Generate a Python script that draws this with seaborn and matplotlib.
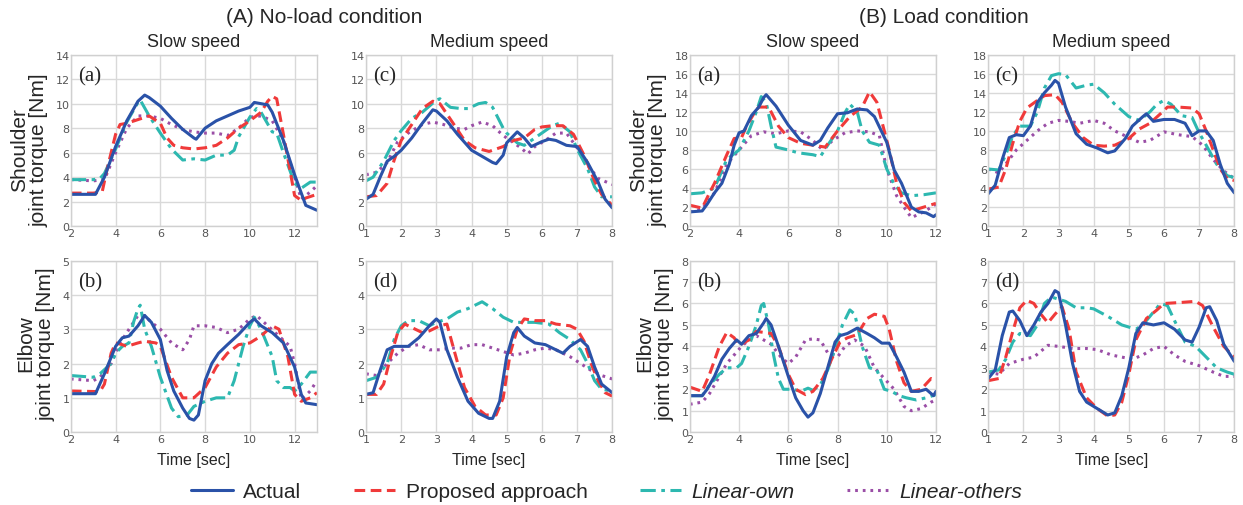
import matplotlib
matplotlib.use("Agg")
import matplotlib.pyplot as plt
import seaborn as sns
from matplotlib.lines import Line2D

# ---- (A) no-load, slow speed, shoulder ----
a_sl_sh_act_t = [2, 3, 3.1, 3.5, 4, 4.5, 5, 5.3, 5.5, 6, 6.5, 7, 7.5, 7.6, 8, 8.5, 9, 9.5, 10, 10.2, 10.5, 10.8, 11, 11.5, 12, 12.5, 13]
a_sl_sh_act_y = [2.6, 2.6, 2.6, 4.0, 6.5, 8.6, 10.2, 10.7, 10.5, 9.8, 8.8, 7.9, 7.2, 7.1, 8.0, 8.6, 9.0, 9.4, 9.7, 10.1, 10.0, 9.9, 9.3, 7.0, 4.2, 1.7, 1.3]
a_sl_sh_pro_t = [2, 3, 3.4, 3.6, 4, 4.2, 4.5, 5, 5.5, 6, 6.3, 6.6, 7, 7.5, 8, 8.5, 9, 9.5, 10, 10.5, 10.8, 11, 11.2, 11.5, 12, 12.3, 12.5, 13]
a_sl_sh_pro_y = [2.7, 2.7, 2.8, 4.5, 7.5, 8.3, 8.4, 8.7, 9.0, 8.4, 7.2, 6.6, 6.4, 6.3, 6.4, 6.6, 7.2, 8.0, 8.6, 9.3, 10.2, 10.6, 10.4, 7.5, 2.5, 2.1, 2.3, 2.6]
a_sl_sh_own_t = [2, 3, 3.3, 3.5, 4, 4.5, 5, 5.1, 5.5, 6, 6.5, 7, 7.5, 8, 8.5, 9, 9.3, 9.5, 10, 10.3, 10.5, 11, 11.2, 11.5, 12, 12.3, 12.7, 13]
a_sl_sh_own_y = [3.8, 3.8, 3.9, 4.3, 6.3, 8.5, 10.1, 10.3, 9.0, 7.6, 6.3, 5.4, 5.5, 5.4, 5.8, 5.8, 6.2, 7.3, 8.9, 9.6, 9.3, 7.7, 7.6, 6.0, 3.5, 3.1, 3.6, 3.6]
a_sl_sh_oth_t = [2, 3, 3.5, 4, 4.5, 5, 5.5, 6, 6.5, 7, 7.5, 8, 8.5, 9, 9.5, 10, 10.5, 11, 11.5, 12, 12.3, 12.7, 13]
a_sl_sh_oth_y = [3.8, 3.7, 3.8, 6.0, 8.0, 9.0, 9.0, 8.8, 8.3, 7.9, 7.7, 7.6, 7.6, 7.4, 8.0, 8.9, 9.0, 8.6, 7.0, 4.0, 2.2, 2.8, 3.3]

# ---- (A) no-load, medium speed, shoulder ----
a_md_sh_act_t = [1, 1.2, 1.4, 1.6, 1.8, 2, 2.3, 2.6, 2.9, 3, 3.3, 3.6, 4, 4.3, 4.6, 4.7, 4.9, 5, 5.3, 5.5, 5.7, 6, 6.2, 6.4, 6.7, 7, 7.3, 7.6, 7.8, 8]
a_md_sh_act_y = [2.2, 2.6, 4.0, 5.3, 5.7, 6.2, 7.2, 8.4, 9.5, 9.4, 8.6, 7.5, 6.2, 5.7, 5.2, 5.1, 5.8, 6.8, 7.7, 7.2, 6.5, 6.9, 7.1, 7.0, 6.6, 6.5, 5.2, 3.6, 2.2, 1.5]
a_md_sh_pro_t = [1, 1.3, 1.6, 1.8, 2, 2.3, 2.6, 2.9, 3.1, 3.5, 3.8, 4.1, 4.5, 4.9, 5.2, 5.5, 5.8, 6, 6.3, 6.6, 6.9, 7.2, 7.5, 7.7, 8]
a_md_sh_pro_y = [2.4, 2.5, 3.5, 5.4, 7.0, 8.3, 9.6, 10.2, 10.0, 8.3, 7.0, 6.4, 6.1, 6.5, 7.0, 7.2, 7.9, 8.1, 8.2, 8.2, 7.5, 5.8, 3.7, 2.6, 1.7]
a_md_sh_own_t = [1, 1.2, 1.5, 1.8, 2, 2.3, 2.6, 3.0, 3.1, 3.4, 3.7, 3.9, 4.2, 4.4, 4.6, 4.9, 5, 5.3, 5.5, 5.8, 6, 6.3, 6.5, 6.8, 7.0, 7.3, 7.5, 7.7, 8]
a_md_sh_own_y = [3.7, 4.0, 5.3, 7.0, 7.8, 8.8, 9.3, 10.3, 10.4, 9.7, 9.6, 9.6, 10.0, 10.1, 9.7, 8.0, 7.6, 6.8, 6.6, 7.2, 7.6, 8.2, 8.4, 7.7, 6.3, 4.7, 3.2, 2.4, 2.4]
a_md_sh_oth_t = [1, 1.3, 1.6, 1.9, 2.2, 2.6, 2.9, 3.2, 3.5, 3.8, 4.0, 4.3, 4.6, 4.9, 5.1, 5.4, 5.6, 5.8, 6.1, 6.4, 6.7, 7, 7.3, 7.6, 8]
a_md_sh_oth_y = [4.2, 4.4, 5.2, 6.9, 7.6, 8.3, 8.5, 8.3, 8.0, 7.9, 8.2, 8.5, 8.2, 7.4, 7.0, 6.4, 5.9, 6.5, 7.0, 7.6, 7.6, 6.4, 5.0, 3.9, 3.4]

# ---- (B) load, slow speed, shoulder ----
b_sl_sh_act_t = [2, 2.5, 2.7, 3, 3.3, 3.6, 3.8, 4, 4.2, 4.5, 4.8, 5.0, 5.1, 5.5, 6, 6.5, 7, 7.3, 7.6, 8, 8.4, 8.8, 9.2, 9.5, 10, 10.3, 10.6, 11, 11.3, 11.6, 11.9, 12]
b_sl_sh_act_y = [1.5, 1.6, 2.3, 3.5, 4.5, 6.5, 8.5, 9.8, 10.0, 11.6, 12.5, 13.5, 13.8, 12.6, 10.6, 9.0, 8.5, 9.0, 10.3, 11.8, 11.9, 12.3, 12.2, 11.5, 8.8, 5.9, 4.5, 2.0, 1.5, 1.4, 1.0, 1.2]
b_sl_sh_pro_t = [2, 2.5, 2.8, 3, 3.5, 3.8, 4.1, 4.3, 4.6, 4.8, 5.2, 5.6, 6, 6.5, 7, 7.5, 8, 8.5, 9, 9.3, 9.6, 9.8, 10.1, 10.4, 10.7, 11, 11.5, 12]
b_sl_sh_pro_y = [2.2, 1.9, 3.5, 4.5, 7.5, 9.2, 9.3, 10.5, 11.8, 12.5, 12.5, 10.5, 9.3, 8.7, 8.5, 8.3, 10.0, 11.5, 12.5, 14.1, 13.0, 11.0, 8.0, 4.5, 2.5, 1.6, 2.0, 2.4]
b_sl_sh_own_t = [2, 2.5, 3, 3.5, 4, 4.4, 4.7, 4.9, 5.1, 5.3, 5.5, 6, 6.4, 7, 7.3, 7.6, 8, 8.3, 8.5, 8.8, 9.0, 9.3, 9.7, 10, 10.3, 10.6, 11, 11.5, 12]
b_sl_sh_own_y = [3.4, 3.5, 4.0, 7.0, 8.0, 10.0, 12.0, 13.6, 13.0, 10.5, 8.3, 8.0, 7.7, 7.5, 7.3, 8.5, 10.0, 11.9, 12.8, 12.0, 10.0, 8.8, 8.5, 6.0, 4.4, 3.5, 3.2, 3.3, 3.5]
b_sl_sh_oth_t = [2, 2.5, 3, 3.5, 4, 4.5, 5, 5.5, 6, 6.5, 7, 7.4, 7.8, 8.3, 8.8, 9.3, 9.7, 10, 10.4, 10.7, 11, 11.5, 12]
b_sl_sh_oth_y = [1.5, 1.8, 3.5, 6.5, 8.0, 9.5, 9.9, 9.7, 10.0, 9.9, 9.0, 8.0, 9.0, 9.8, 10.0, 9.9, 9.5, 6.0, 3.2, 2.0, 0.9, 1.5, 2.3]

# ---- (B) load, medium speed, shoulder ----
b_md_sh_act_t = [1, 1.2, 1.4, 1.6, 1.8, 2, 2.2, 2.4, 2.6, 2.8, 2.9, 3.0, 3.2, 3.5, 3.8, 4.1, 4.4, 4.6, 4.9, 5.1, 5.4, 5.5, 5.7, 6.0, 6.3, 6.6, 6.8, 7, 7.2, 7.4, 7.6, 7.8, 8]
b_md_sh_act_y = [3.4, 4.3, 7.0, 9.3, 9.6, 9.5, 10.5, 13.0, 14.0, 14.8, 15.3, 15.0, 12.5, 9.7, 8.6, 8.2, 7.7, 7.9, 9.2, 10.5, 11.5, 11.8, 11.0, 11.2, 11.2, 10.8, 9.5, 10.0, 10.0, 9.0, 6.5, 4.5, 3.5]
b_md_sh_pro_t = [1, 1.3, 1.5, 1.7, 1.9, 2.1, 2.4, 2.6, 2.9, 3.1, 3.4, 3.7, 4.0, 4.3, 4.6, 5, 5.3, 5.6, 5.9, 6.1, 6.4, 6.8, 7, 7.2, 7.4, 7.6, 7.8, 8]
b_md_sh_pro_y = [3.9, 4.1, 6.0, 8.7, 11.0, 12.4, 13.2, 13.7, 13.8, 13.0, 10.8, 9.3, 8.5, 8.4, 8.5, 9.2, 10.2, 10.8, 11.8, 12.5, 12.5, 12.4, 11.8, 10.0, 8.0, 6.0, 5.0, 4.8]
b_md_sh_own_t = [1, 1.3, 1.5, 1.7, 1.9, 2.2, 2.4, 2.6, 2.8, 3.0, 3.2, 3.5, 3.8, 4.0, 4.3, 4.6, 5, 5.3, 5.6, 5.8, 6.0, 6.2, 6.5, 6.8, 7.0, 7.2, 7.5, 7.8, 8]
b_md_sh_own_y = [6.0, 5.9, 7.5, 9.5, 10.5, 10.5, 12.0, 14.5, 15.8, 16.0, 15.9, 14.5, 14.8, 14.9, 14.0, 12.8, 11.5, 11.1, 12.0, 12.8, 13.2, 12.8, 11.6, 11.4, 9.8, 8.5, 6.5, 5.3, 5.1]
b_md_sh_oth_t = [1, 1.3, 1.6, 1.8, 2.1, 2.4, 2.7, 3, 3.3, 3.6, 4.0, 4.3, 4.6, 5, 5.3, 5.6, 6.0, 6.4, 6.8, 7.1, 7.4, 7.7, 8]
b_md_sh_oth_y = [6.0, 5.6, 7.0, 8.0, 9.0, 10.0, 10.8, 11.1, 11.0, 10.8, 11.1, 10.8, 10.0, 9.3, 8.8, 9.0, 9.9, 9.6, 9.4, 8.5, 7.0, 5.8, 5.0]

# ---- (A) no-load, slow speed, elbow ----
a_sl_el_act_t = [2, 3.1, 3.5, 4, 4.3, 4.6, 5, 5.3, 5.6, 6, 6.3, 6.6, 7, 7.3, 7.5, 7.7, 8, 8.3, 8.6, 9, 9.5, 10, 10.2, 10.5, 11, 11.5, 12, 12.3, 12.5, 13]
a_sl_el_act_y = [1.12, 1.12, 1.7, 2.5, 2.75, 2.8, 3.1, 3.4, 3.2, 2.7, 1.8, 1.2, 0.7, 0.4, 0.35, 0.5, 1.5, 2.0, 2.3, 2.55, 2.85, 3.2, 3.3, 3.1, 2.9, 2.6, 1.9, 1.1, 0.85, 0.8]
a_sl_el_pro_t = [2, 3.3, 3.5, 3.8, 4, 4.3, 4.5, 5, 5.3, 5.8, 6, 6.5, 7, 7.5, 8, 8.5, 9, 9.5, 10, 10.5, 11, 11.3, 11.7, 12, 12.3, 12.7, 13]
a_sl_el_pro_y = [1.2, 1.18, 1.4, 2.3, 2.6, 2.55, 2.5, 2.6, 2.65, 2.6, 2.5, 1.6, 1.0, 1.0, 1.3, 1.9, 2.3, 2.55, 2.6, 2.8, 3.1, 3.0, 2.2, 1.1, 0.9, 1.0, 1.15]
a_sl_el_own_t = [2, 3, 3.3, 3.8, 4, 4.3, 4.6, 4.8, 5.0, 5.1, 5.3, 5.6, 6, 6.5, 6.8, 7.2, 7.5, 8, 8.5, 9, 9.3, 9.7, 10, 10.2, 10.5, 11, 11.2, 11.5, 11.8, 12, 12.3, 12.7, 13]
a_sl_el_own_y = [1.65, 1.6, 1.7, 2.0, 2.3, 2.5, 2.6, 3.2, 3.6, 3.7, 3.0, 2.5, 1.6, 0.7, 0.45, 0.5, 0.75, 0.9, 1.0, 1.0, 1.5, 2.5, 3.1, 3.35, 3.0, 2.2, 1.5, 1.3, 1.3, 1.2, 1.4, 1.75, 1.75]
a_sl_el_oth_t = [2, 3, 3.3, 3.8, 4.2, 4.6, 5, 5.3, 5.6, 6, 6.5, 7, 7.3, 7.5, 8, 8.5, 9, 9.5, 10, 10.3, 10.8, 11.3, 11.8, 12, 12.3, 12.7, 13]
a_sl_el_oth_y = [1.55, 1.5, 1.6, 2.0, 2.6, 3.0, 3.4, 3.4, 3.2, 3.0, 2.6, 2.4, 2.7, 3.1, 3.1, 3.05, 2.9, 3.0, 3.3, 3.4, 3.1, 2.8, 2.5, 2.0, 0.95, 1.2, 1.5]

# ---- (A) no-load, medium speed, elbow ----
a_md_el_act_t = [1, 1.2, 1.4, 1.6, 1.8, 2.0, 2.2, 2.5, 2.8, 3.0, 3.1, 3.3, 3.6, 3.9, 4.2, 4.5, 4.6, 4.8, 5.0, 5.2, 5.3, 5.5, 5.8, 6.1, 6.4, 6.6, 6.8, 7.1, 7.3, 7.5, 7.7, 8.0]
a_md_el_act_y = [1.1, 1.15, 1.8, 2.4, 2.5, 2.5, 2.5, 2.75, 3.1, 3.3, 3.2, 2.4, 1.6, 0.9, 0.55, 0.4, 0.4, 0.9, 2.2, 2.9, 3.05, 2.8, 2.6, 2.55, 2.4, 2.3, 2.5, 2.7, 2.5, 1.9, 1.4, 1.15]
a_md_el_pro_t = [1, 1.3, 1.5, 1.7, 1.9, 2.1, 2.4, 2.6, 2.8, 3.1, 3.3, 3.5, 3.8, 4.1, 4.4, 4.7, 4.9, 5.1, 5.3, 5.5, 5.8, 6.1, 6.4, 6.8, 7.0, 7.2, 7.4, 7.6, 7.8, 8]
a_md_el_pro_y = [1.1, 1.1, 1.4, 2.2, 2.9, 3.15, 3.0, 2.9, 2.95, 3.1, 3.15, 2.4, 1.3, 0.75, 0.5, 0.5, 1.0, 2.3, 3.0, 3.3, 3.25, 3.25, 3.15, 3.1, 3.0, 2.65, 2.0, 1.5, 1.15, 1.05]
a_md_el_own_t = [1, 1.3, 1.6, 1.8, 2.0, 2.2, 2.5, 2.8, 3.0, 3.3, 3.6, 3.9, 4.1, 4.3, 4.6, 4.9, 5.2, 5.5, 5.8, 6.2, 6.5, 6.8, 7.1, 7.3, 7.5, 7.7, 8.0]
a_md_el_own_y = [1.5, 1.6, 2.0, 2.7, 3.1, 3.25, 3.25, 3.1, 3.2, 3.3, 3.5, 3.6, 3.7, 3.8, 3.6, 3.35, 3.2, 3.2, 3.2, 3.15, 2.9, 2.7, 2.4, 2.0, 1.5, 1.25, 1.2]
a_md_el_oth_t = [1, 1.3, 1.6, 1.9, 2.2, 2.5, 2.8, 3.1, 3.4, 3.7, 4.0, 4.3, 4.6, 4.9, 5.2, 5.5, 5.8, 6.1, 6.4, 6.8, 7.1, 7.4, 7.7, 8.0]
a_md_el_oth_y = [1.7, 1.65, 2.0, 2.3, 2.5, 2.55, 2.4, 2.4, 2.45, 2.45, 2.55, 2.55, 2.45, 2.35, 2.25, 2.3, 2.4, 2.45, 2.4, 2.2, 2.0, 1.8, 1.65, 1.55]

# ---- (B) load, slow speed, elbow ----
b_sl_el_act_t = [2, 2.5, 2.7, 3, 3.3, 3.6, 3.9, 4.1, 4.4, 4.7, 5.0, 5.1, 5.3, 5.6, 6.0, 6.3, 6.6, 6.8, 7.0, 7.3, 7.6, 7.9, 8.1, 8.4, 8.8, 9.2, 9.5, 9.8, 10.1, 10.4, 10.7, 11.0, 11.3, 11.6, 11.9, 12]
b_sl_el_act_y = [1.7, 1.7, 2.0, 2.6, 3.4, 3.9, 4.3, 4.1, 4.5, 4.6, 5.1, 5.3, 5.0, 4.0, 2.6, 1.6, 1.0, 0.7, 0.9, 1.8, 3.0, 4.2, 4.5, 4.6, 4.85, 4.6, 4.4, 4.15, 4.15, 3.5, 2.8, 1.9, 1.9, 2.0, 1.7, 1.9]
b_sl_el_pro_t = [2, 2.5, 2.8, 3.2, 3.5, 3.8, 4.0, 4.4, 4.7, 5.0, 5.3, 5.6, 6.0, 6.3, 6.7, 7.0, 7.4, 7.8, 8.1, 8.4, 8.8, 9.2, 9.5, 9.9, 10.1, 10.4, 10.7, 11.0, 11.4, 11.8, 12.0]
b_sl_el_pro_y = [2.1, 1.9, 2.7, 4.0, 4.65, 4.4, 4.05, 4.3, 4.7, 4.65, 4.6, 4.0, 2.7, 2.0, 1.75, 1.9, 2.5, 3.5, 4.2, 4.4, 4.55, 5.3, 5.5, 5.4, 4.8, 3.3, 2.3, 1.9, 2.0, 2.5, 2.4]
b_sl_el_own_t = [2, 2.5, 2.8, 3.2, 3.5, 3.9, 4.1, 4.4, 4.7, 4.9, 5.0, 5.2, 5.4, 5.6, 5.8, 6.2, 6.5, 6.8, 7.0, 7.3, 7.6, 7.9, 8.2, 8.5, 8.7, 9.0, 9.3, 9.6, 9.9, 10.2, 10.5, 10.8, 11.2, 11.6, 12.0]
b_sl_el_own_y = [1.7, 1.7, 2.2, 2.7, 3.0, 3.0, 3.2, 4.0, 5.0, 5.9, 6.0, 5.0, 3.6, 2.5, 2.0, 2.0, 1.9, 2.05, 1.95, 2.2, 2.9, 3.9, 5.0, 5.7, 5.5, 4.0, 3.0, 2.9, 2.0, 1.9, 1.7, 1.6, 1.5, 1.6, 1.75]
b_sl_el_oth_t = [2, 2.5, 2.8, 3.2, 3.5, 3.8, 4.1, 4.4, 4.7, 5.0, 5.3, 5.7, 6.0, 6.3, 6.7, 7.0, 7.3, 7.6, 8.0, 8.3, 8.7, 9.1, 9.5, 9.9, 10.3, 10.7, 11.0, 11.4, 11.8, 12.0]
b_sl_el_oth_y = [1.3, 1.4, 1.8, 2.6, 3.2, 3.6, 4.0, 4.3, 4.5, 4.3, 4.1, 3.5, 3.2, 3.5, 4.3, 4.35, 4.3, 3.7, 3.5, 4.0, 4.3, 4.0, 3.0, 2.5, 2.0, 1.2, 1.0, 1.1, 1.4, 1.5]

# ---- (B) load, medium speed, elbow ----
b_md_el_act_t = [1, 1.2, 1.4, 1.6, 1.7, 1.9, 2.1, 2.3, 2.5, 2.7, 2.9, 3.0, 3.2, 3.4, 3.6, 3.8, 4.1, 4.4, 4.6, 4.8, 5.0, 5.2, 5.4, 5.7, 6.0, 6.3, 6.6, 6.8, 7.0, 7.2, 7.3, 7.5, 7.7, 8.0]
b_md_el_act_y = [2.5, 2.9, 4.5, 5.6, 5.65, 5.2, 4.5, 5.0, 5.6, 6.0, 6.6, 6.5, 5.0, 3.2, 1.9, 1.4, 1.1, 0.8, 0.9, 1.7, 3.0, 4.6, 5.1, 5.0, 5.1, 4.8, 4.3, 4.2, 4.9, 5.8, 5.85, 5.2, 4.1, 3.3]
b_md_el_pro_t = [1, 1.3, 1.5, 1.7, 1.9, 2.1, 2.3, 2.5, 2.7, 2.9, 3.1, 3.3, 3.5, 3.8, 4.1, 4.4, 4.6, 4.8, 5.0, 5.2, 5.5, 5.8, 6.0, 6.5, 6.9, 7.1, 7.4, 7.7, 8.0]
b_md_el_pro_y = [2.4, 2.5, 3.5, 4.7, 5.8, 6.15, 6.0, 5.5, 5.1, 5.5, 5.85, 4.8, 2.8, 1.6, 1.1, 0.75, 0.8, 1.4, 2.7, 4.3, 5.3, 5.7, 6.0, 6.05, 6.1, 5.9, 4.9, 4.0, 3.5]
b_md_el_own_t = [1, 1.3, 1.5, 1.7, 1.9, 2.2, 2.4, 2.6, 2.8, 3.2, 3.5, 3.8, 4.0, 4.4, 4.8, 5.2, 5.4, 5.7, 5.9, 6.1, 6.3, 6.6, 6.9, 7.2, 7.5, 7.8, 8.0]
b_md_el_own_y = [2.8, 2.9, 3.4, 4.2, 4.6, 4.5, 5.0, 6.0, 6.3, 6.1, 5.8, 5.8, 5.75, 5.4, 5.0, 4.8, 5.0, 5.6, 6.0, 5.9, 5.2, 4.2, 4.0, 3.5, 3.0, 2.8, 2.7]
b_md_el_oth_t = [1, 1.3, 1.6, 2.0, 2.3, 2.7, 3.0, 3.4, 3.8, 4.1, 4.5, 4.8, 5.1, 5.4, 5.7, 6.0, 6.3, 6.6, 7.0, 7.4, 7.7, 8.0]
b_md_el_oth_y = [2.8, 2.7, 3.2, 3.4, 3.5, 4.05, 4.0, 3.9, 3.9, 3.85, 3.6, 3.5, 3.4, 3.6, 3.9, 4.0, 3.6, 3.3, 3.1, 2.8, 2.6, 2.6]

series_names = ["Actual", "Proposed approach", "Linear-own", "Linear-others"]
colors = ["#2a52a8", "#f03a3a", "#2db8b0", "#9a4ea6"]
styles = ["-", (0, (3.5, 1.8)), (0, (5, 1.8, 1.2, 1.8)), (0, (0.9, 1.6))]

panels = [
    # (left, bottom, xlim, xticks, ymax, yticks, letter, series)
    (0.057, 0.551, (2, 13), [2, 4, 6, 8, 10, 12], 14, range(0, 15, 2), "(a)",
     [(a_sl_sh_act_t, a_sl_sh_act_y), (a_sl_sh_pro_t, a_sl_sh_pro_y), (a_sl_sh_own_t, a_sl_sh_own_y), (a_sl_sh_oth_t, a_sl_sh_oth_y)]),
    (0.2945, 0.551, (1, 8), range(1, 9), 14, range(0, 15, 2), "(c)",
     [(a_md_sh_act_t, a_md_sh_act_y), (a_md_sh_pro_t, a_md_sh_pro_y), (a_md_sh_own_t, a_md_sh_own_y), (a_md_sh_oth_t, a_md_sh_oth_y)]),
    (0.555, 0.551, (2, 12), [2, 4, 6, 8, 10, 12], 18, range(0, 19, 2), "(a)",
     [(b_sl_sh_act_t, b_sl_sh_act_y), (b_sl_sh_pro_t, b_sl_sh_pro_y), (b_sl_sh_own_t, b_sl_sh_own_y), (b_sl_sh_oth_t, b_sl_sh_oth_y)]),
    (0.795, 0.551, (1, 8), range(1, 9), 18, range(0, 19, 2), "(c)",
     [(b_md_sh_act_t, b_md_sh_act_y), (b_md_sh_pro_t, b_md_sh_pro_y), (b_md_sh_own_t, b_md_sh_own_y), (b_md_sh_oth_t, b_md_sh_oth_y)]),
    (0.057, 0.144, (2, 13), [2, 4, 6, 8, 10, 12], 5, range(0, 6), "(b)",
     [(a_sl_el_act_t, a_sl_el_act_y), (a_sl_el_pro_t, a_sl_el_pro_y), (a_sl_el_own_t, a_sl_el_own_y), (a_sl_el_oth_t, a_sl_el_oth_y)]),
    (0.2945, 0.144, (1, 8), range(1, 9), 5, range(0, 6), "(d)",
     [(a_md_el_act_t, a_md_el_act_y), (a_md_el_pro_t, a_md_el_pro_y), (a_md_el_own_t, a_md_el_own_y), (a_md_el_oth_t, a_md_el_oth_y)]),
    (0.555, 0.144, (2, 12), [2, 4, 6, 8, 10, 12], 8, range(0, 9), "(b)",
     [(b_sl_el_act_t, b_sl_el_act_y), (b_sl_el_pro_t, b_sl_el_pro_y), (b_sl_el_own_t, b_sl_el_own_y), (b_sl_el_oth_t, b_sl_el_oth_y)]),
    (0.795, 0.144, (1, 8), range(1, 9), 8, range(0, 9), "(d)",
     [(b_md_el_act_t, b_md_el_act_y), (b_md_el_pro_t, b_md_el_pro_y), (b_md_el_own_t, b_md_el_own_y), (b_md_el_oth_t, b_md_el_oth_y)]),
]

sns.set_style("whitegrid", {"grid.color": "#d9d9d9", "axes.edgecolor": "#d0d0d0"})
plt.rcParams["font.family"] = ["Liberation Sans", "DejaVu Sans"]

fig = plt.figure(figsize=(12.43, 5.06), dpi=100)

for i, (left, bottom, xlim, xticks, ymax, yticks, letter, series) in enumerate(panels):
    ax = fig.add_axes([left, bottom, 0.198, 0.339])
    # draw in reverse so "Actual" sits on top
    for k in [3, 2, 1, 0]:
        t, y = series[k]
        sns.lineplot(x=t, y=y, ax=ax, color=colors[k], linestyle=styles[k], linewidth=2.2)
    ax.set_xlim(*xlim)
    ax.set_ylim(0, ymax)
    ax.set_xticks(list(xticks))
    ax.set_yticks(list(yticks))
    ax.tick_params(labelsize=8, labelcolor="#555555", pad=1, length=0)
    for lab in ax.get_xticklabels() + ax.get_yticklabels():
        lab.set_family("DejaVu Sans")
    for sp in ax.spines.values():
        sp.set_color("#d0d0d0")
        sp.set_linewidth(1.0)
    ax.grid(True, color="#d9d9d9", linewidth=1.0)
    ax.text(0.03, 0.93, letter, transform=ax.transAxes, fontsize=15,
            family="Liberation Serif", va="top", ha="left")
    col = i % 4
    row = i // 4
    if row == 0:
        ax.set_title("Slow speed" if col % 2 == 0 else "Medium speed", fontsize=13, pad=6)
    else:
        ax.set_xlabel("Time [sec]", fontsize=11.5, labelpad=6)
    if col % 2 == 0:
        ax.set_ylabel("Shoulder\njoint torque [Nm]" if row == 0 else "Elbow\njoint torque [Nm]",
                      fontsize=15, labelpad=5, linespacing=1.05,
                      y=0.45 if row == 0 else 0.52)

fig.text(0.261, 0.965, "(A) No-load condition", ha="center", va="center", fontsize=15)
fig.text(0.759, 0.965, "(B) Load condition", ha="center", va="center", fontsize=15)

handles = [Line2D([], [], color=colors[k], linestyle=styles[k], linewidth=2.2) for k in range(4)]
leg = fig.legend(handles, series_names, loc="center", bbox_to_anchor=(0.488, 0.026), ncol=4,
                 frameon=False, fontsize=15, handlelength=2.0, columnspacing=2.5, handletextpad=0.5)
for txt in leg.get_texts()[2:]:
    txt.set_fontstyle("italic")

fig.savefig("out.png", dpi=100)
